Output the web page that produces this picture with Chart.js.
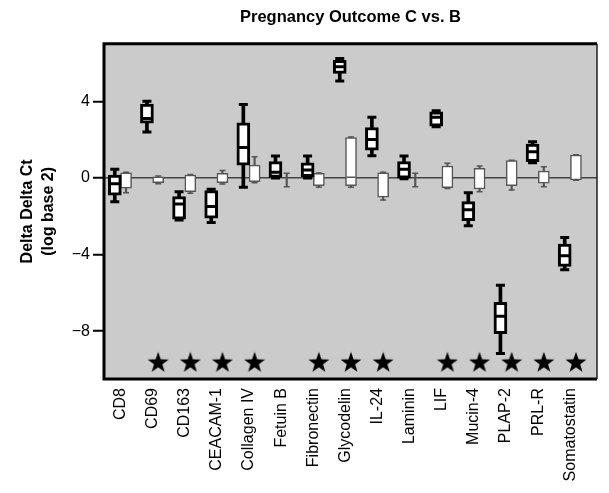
<!DOCTYPE html>
<html><head><meta charset="utf-8">
<script src="https://cdn.jsdelivr.net/npm/chart.js@4.4.1/dist/chart.umd.min.js"></script>
<style>html,body{margin:0;padding:0;background:#fff}</style>
</head><body>
<canvas id="c" width="609" height="493" style="display:block;width:609px;height:493px"></canvas>
<script>
const categories = ['CD8','CD69','CD163','CEACAM-1','Collagen IV','Fetuin B','Fibronectin','Glycodelin','IL-24','Laminin','LIF','Mucin-4','PLAP-2','PRL-R','Somatostatin'];

// first group (thick black boxes)
const darkMin = [-1.25, 2.40, -2.20, -2.33, -0.49, 0.00, 0.00, 5.06, 1.16, -0.05, 2.67, -2.50, -9.17, 0.79, -4.80];
const darkQ1  = [-0.90, 2.85, -2.15, -2.10, 0.67, 0.03, 0.06, 5.45, 1.45, -0.02, 2.70, -2.23, -8.13, 0.85, -4.62];
const darkMed = [-0.30, 3.10, -1.36, -1.50, 1.59, 0.30, 0.41, 5.80, 2.01, 0.45, 3.16, -1.67, -7.23, 1.37, -4.07];
const darkQ3  = [0.15, 3.85, -0.98, -0.66, 2.88, 0.85, 0.79, 6.14, 2.63, 0.85, 3.45, -1.24, -6.50, 1.77, -3.46];
const darkMax = [0.45, 4.00, -0.72, -0.60, 3.83, 1.14, 1.14, 6.23, 3.16, 1.14, 3.50, -0.77, -5.61, 1.89, -3.11];

// second group (thin grey boxes)
const lightMin = [-0.77, -0.30, -0.80, -0.32, -0.25, -0.46, -0.49, -0.49, -1.15, -0.46, -0.55, -0.72, -0.63, -0.46, -0.13];
const lightQ1  = [-0.54, -0.25, -0.72, -0.25, -0.20, null, -0.41, -0.41, -1.01, null, -0.51, -0.58, -0.41, -0.28, -0.11];
const lightMed = [null, null, null, null, null, null, null, 0.03, null, null, null, null, null, null, null];
const lightQ3  = [0.27, 0.05, 0.15, 0.24, 0.67, null, 0.24, 2.11, 0.27, null, 0.62, 0.50, 0.90, 0.36, 1.19];
const lightMax = [0.30, 0.10, 0.18, 0.38, 1.10, 0.24, 0.26, 2.13, 0.30, 0.24, 0.76, 0.62, 0.92, 0.58, 1.21];

const significant = [0,1,1,1,1,0,1,1,1,0,1,1,1,1,1];
const yTickValues = [-8, -4, 0, 4];

// layout constants
const DARK_OFF = -0.175, LIGHT_OFF = 0.175, STAR_Y = -9.6;
const FONT = "'Liberation Sans', Arial, Helvetica, sans-serif";

function boxes(q1, q3, off) {
  return categories.map((_, i) => (q1[i] == null || q3[i] == null) ? null : {x: i + off, y: [q1[i], q3[i]]}).filter(Boolean);
}
function whiskers(mn, mx, off) {
  return categories.map((_, i) => ({x: i + off, y: [mn[i], mx[i]]}));
}
function caps(mn, mx, off) {
  return categories.flatMap((_, i) => [{x: i + off, y: mn[i]}, {x: i + off, y: mx[i]}]);
}
function medians(md, off) {
  return categories.map((_, i) => md[i] == null ? null : {x: i + off, y: md[i]}).filter(Boolean);
}

function starImage(size) {
  const c = document.createElement('canvas');
  c.width = size; c.height = size;
  const g = c.getContext('2d');
  const R = size / 2, r = R * 0.40, cy = R + R * 0.1;
  g.fillStyle = '#000';
  g.beginPath();
  for (let k = 0; k < 10; k++) {
    const a = -Math.PI / 2 + k * Math.PI / 5;
    const rad = k % 2 ? r : R;
    g.lineTo(R + rad * Math.cos(a), cy + rad * Math.sin(a));
  }
  g.closePath();
  g.fill();
  return c;
}
const star = starImage(22);

const plotFrame = {
  id: 'plotFrame',
  beforeDraw(chart) {
    const {ctx, chartArea: a} = chart;
    ctx.save();
    ctx.fillStyle = '#cbcbcb';
    ctx.fillRect(a.left, a.top, a.right - a.left, a.bottom - a.top);
    ctx.restore();
  },
  afterDatasetsDraw(chart) {
    const {ctx, chartArea: a} = chart;
    ctx.save();
    ctx.strokeStyle = '#000';
    ctx.lineWidth = 3;
    ctx.beginPath();
    ctx.moveTo(a.right, a.top); ctx.lineTo(a.left, a.top); ctx.lineTo(a.left, a.bottom); ctx.lineTo(a.right, a.bottom);
    ctx.stroke();
    ctx.lineWidth = 1.5;
    ctx.strokeStyle = '#222';
    ctx.beginPath(); ctx.moveTo(a.right, a.top); ctx.lineTo(a.right, a.bottom); ctx.stroke();
    ctx.restore();
  }
};

const DARK = '#000', LIGHT = '#555';

new Chart(document.getElementById('c'), {
  type: 'bar',
  data: {
    datasets: [
      {type: 'scatter', label: 'stars', order: 0, data: categories.map((_, i) => significant[i] ? {x: i + LIGHT_OFF, y: STAR_Y} : null).filter(Boolean), pointStyle: star, pointRadius: 11},
      {type: 'scatter', label: 'dark median', order: 1, data: medians(darkMed, DARK_OFF), pointStyle: 'line', pointRadius: 5, borderWidth: 3, borderColor: DARK},
      {type: 'scatter', label: 'dark caps', order: 2, data: caps(darkMin, darkMax, DARK_OFF), pointStyle: 'line', pointRadius: 4.5, borderWidth: 3, borderColor: DARK},
      {type: 'bar', label: 'dark box', order: 3, grouped: false, data: boxes(darkQ1, darkQ3, DARK_OFF), barThickness: 13, backgroundColor: '#fff', borderColor: DARK, borderWidth: 3, borderSkipped: false},
      {type: 'bar', label: 'dark whisker', order: 4, grouped: false, data: whiskers(darkMin, darkMax, DARK_OFF), barThickness: 3, backgroundColor: DARK, borderWidth: 0},
      {type: 'scatter', label: 'light median', order: 1, data: medians(lightMed, LIGHT_OFF), pointStyle: 'line', pointRadius: 4.5, borderWidth: 1.5, borderColor: LIGHT},
      {type: 'scatter', label: 'light caps', order: 2, data: caps(lightMin, lightMax, LIGHT_OFF), pointStyle: 'line', pointRadius: 3, borderWidth: 1.5, borderColor: LIGHT},
      {type: 'bar', label: 'light box', order: 3, grouped: false, data: boxes(lightQ1, lightQ3, LIGHT_OFF), barThickness: 11, backgroundColor: '#fff', borderColor: LIGHT, borderWidth: 1.5, borderSkipped: false},
      {type: 'bar', label: 'light whisker', order: 4, grouped: false, data: whiskers(lightMin, lightMax, LIGHT_OFF), barThickness: 1.5, backgroundColor: LIGHT, borderWidth: 0}
    ]
  },
  options: {
    responsive: false,
    animation: false,
    devicePixelRatio: 1,
    layout: {padding: {left: 0, right: 2, top: 0, bottom: 0}},
    plugins: {
      legend: {display: false},
      tooltip: {enabled: false},
      title: {display: true, text: 'Pregnancy Outcome C vs. B', color: '#000', fullSize: false,
        font: {family: FONT, size: 16.5, weight: 'bold', lineHeight: 1.2}, padding: {top: 8, bottom: 16}}
    },
    scales: {
      x: {
        type: 'linear', min: -0.511, max: 14.83, offset: false,
        afterFit: s => { s.height = 114; },
        afterBuildTicks: s => { s.ticks = categories.map((_, i) => ({value: i})); },
        grid: {display: false, offset: false},
        border: {display: false},
        ticks: {autoSkip: false, maxRotation: 90, minRotation: 90, padding: 1, color: '#000',
          font: {family: FONT, size: 16}, callback: v => categories[v] ?? ''}
      },
      y: {
        type: 'linear', min: -10.5, max: 7,
        afterFit: s => { s.width = 104; },
        afterBuildTicks: s => { s.ticks = yTickValues.map(v => ({value: v})); },
        grid: {drawOnChartArea: true, lineWidth: 1.5,
          color: c => (c.tick && c.tick.value === 0) ? '#444' : 'rgba(0,0,0,0)',
          drawTicks: true, tickLength: 11, tickColor: '#000', tickWidth: 2},
        border: {display: false},
        ticks: {padding: 3, color: '#000', font: {family: FONT, size: 16},
          callback: v => v < 0 ? '\u2212' + Math.abs(v) : String(v)},
        title: {display: true, text: ['Delta Delta Ct', '(log base 2)'], color: '#000',
          font: {family: FONT, size: 16, weight: 'bold', lineHeight: 1.3}, padding: {top: 17, bottom: 0}}
      }
    }
  },
  plugins: [plotFrame]
});
</script>
</body></html>
